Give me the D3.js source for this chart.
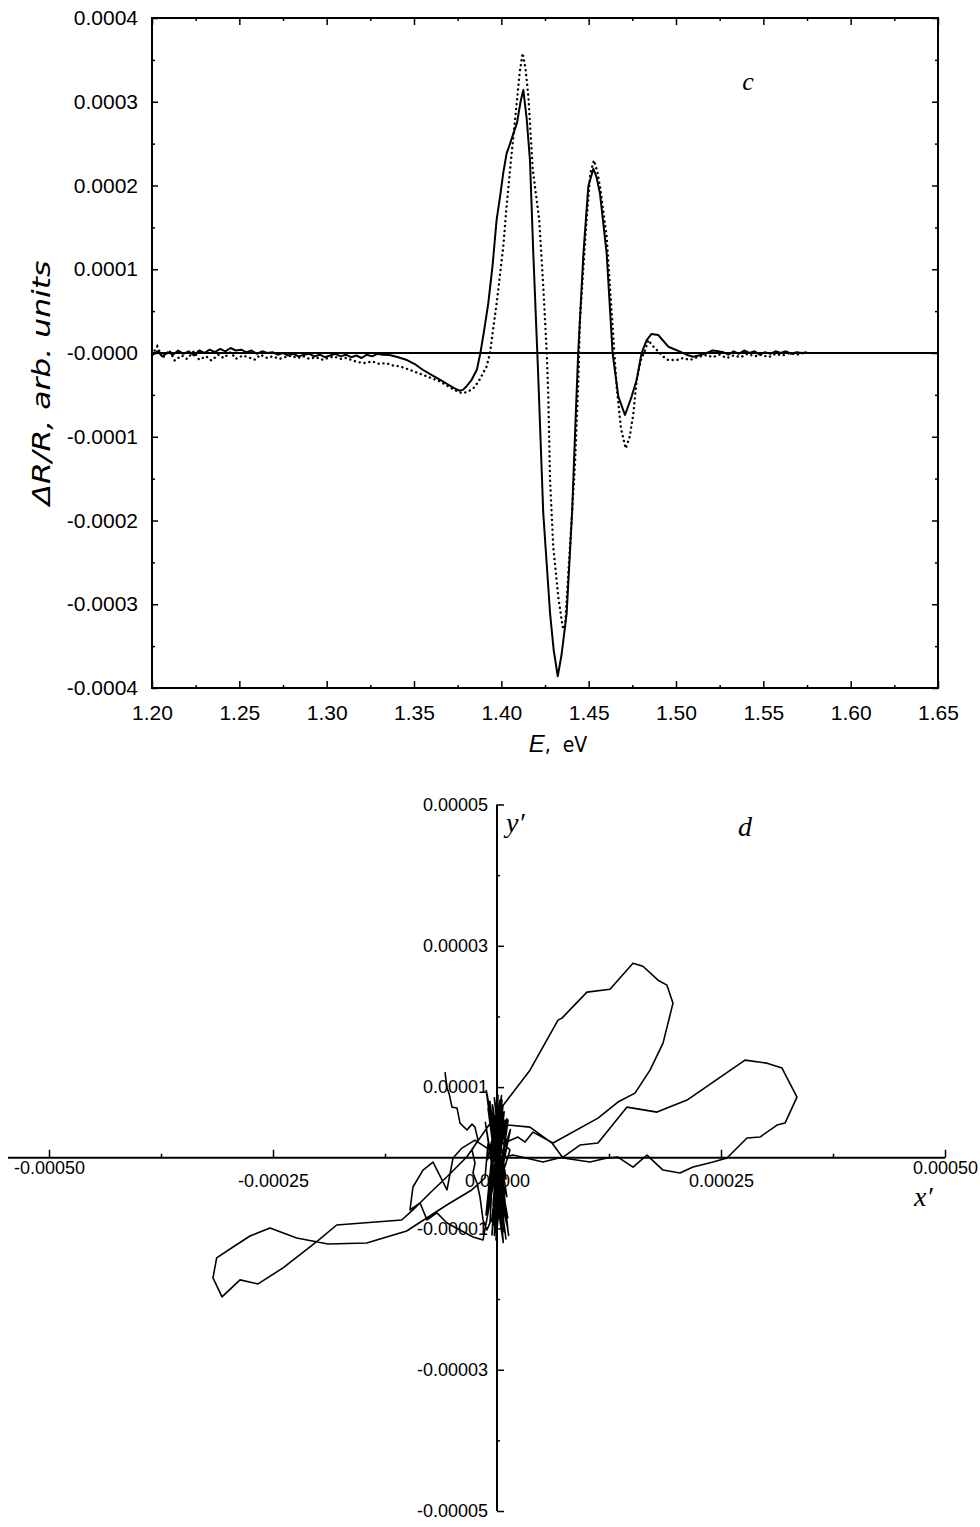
<!DOCTYPE html>
<html>
<head>
<meta charset="utf-8">
<script src="https://cdn.jsdelivr.net/npm/d3@7"></script>
<style>
  body { margin: 0; background: #fff; }
  text { fill: #000; }
</style>
</head>
<body>
<script>
// ---- panel c : dR/R spectra (values in units of 1e-5) ----
var solidE = [
  1.200,1.203,1.206,1.209,1.212,1.215,1.218,1.221,1.224,1.227,
  1.230,1.233,1.236,1.239,1.242,1.245,1.248,1.251,1.254,1.257,
  1.260,1.263,1.266,1.269,1.272,1.275,1.278,1.281,1.284,1.287,
  1.290,1.293,1.296,1.299,1.302,1.305,1.308,1.311,1.314,1.317,
  1.320,1.323,1.326,1.329,1.332,1.336,1.341,1.346,1.351,1.355,
  1.360,1.365,1.369,1.373,1.376,1.378,1.380,1.383,1.386,1.388,
  1.390,1.3925,1.395,1.3973,1.3995,1.4011,1.403,1.405,1.4069,1.409,
  1.411,1.4126,1.4145,1.4164,1.4183,1.4206,1.4212,1.424,1.4279,1.430,
  1.4323,1.4345,1.4374,1.4405,1.4425,1.4440,1.447,1.4498,1.4527,1.4545,
  1.4565,1.4603,1.4637,1.467,1.4708,1.4746,1.4775,1.4803,1.4832,1.486,
  1.4898,1.4956,1.5023,1.506,1.5099,1.513,1.5176,1.521,1.5233,1.527,
  1.530,1.533,1.536,1.539,1.542,1.545,1.548,1.551,1.554,1.557,
  1.560,1.563,1.566,1.569,1.572,1.575
];
var solidR = [
  -0.3,0.2,-0.4,0.1,-0.2,0.3,-0.1,0.2,-0.3,0.3,
  0.0,0.4,0.1,0.5,0.2,0.6,0.3,0.4,0.1,0.3,
  -0.1,0.2,0.0,0.1,-0.2,0.0,-0.3,-0.1,-0.4,-0.2,
  -0.1,-0.4,-0.2,-0.5,-0.3,-0.1,-0.4,-0.2,-0.5,-0.3,
  -0.6,-0.2,-0.4,-0.1,-0.2,-0.24,-0.5,-0.84,-1.4,-2.0,
  -2.6,-3.2,-3.7,-4.2,-4.5,-4.4,-4.0,-3.2,-2.0,0.0,
  2.5,5.9,10.5,15.9,19.0,21.5,23.8,25.0,26.2,27.5,
  30.0,31.4,28.0,23.0,11.9,0.0,-3.2,-19.1,-31.1,-35.5,
  -38.6,-36.0,-31.1,-19.1,-8.0,0.0,11.9,19.9,22.0,21.0,
  19.0,11.9,0.0,-5.2,-7.4,-5.2,-3.2,0.0,1.55,2.27,
  2.15,0.75,0.16,-0.2,-0.44,-0.3,0.0,0.3,0.24,0.1,
  -0.2,0.2,-0.1,0.3,0.0,0.2,-0.2,0.1,-0.1,0.2,
  0.0,0.2,-0.1,0.1,0.0,0.1
];
var dotE = [
  1.200,1.203,1.206,1.210,1.213,1.217,1.220,1.224,1.227,1.231,
  1.234,1.238,1.241,1.245,1.248,1.252,1.255,1.259,1.262,1.266,
  1.269,1.273,1.276,1.280,1.283,1.287,1.290,1.294,1.297,1.301,
  1.304,1.308,1.311,1.315,1.318,1.322,1.326,1.330,1.334,1.338,
  1.342,1.346,1.350,1.355,1.360,1.365,1.369,1.373,1.376,1.378,
  1.381,1.384,1.387,1.3916,1.3935,1.3954,1.3973,1.4011,1.403,1.4059,
  1.4088,1.4105,1.4122,1.4138,1.4155,1.418,1.4217,1.4240,1.426,1.4269,
  1.4279,1.4297,1.4326,1.4351,1.4364,1.4393,1.4422,1.4441,1.445,1.4488,
  1.451,1.453,1.4548,1.4565,1.4603,1.4641,1.466,1.4685,1.4712,1.4735,
  1.4756,1.4775,1.480,1.4823,1.4842,1.486,1.489,1.4925,1.4956,1.5004,
  1.504,1.508,1.512,1.5176,1.521,1.525,1.529,1.533,1.537,1.541,
  1.545,1.549,1.553,1.557,1.561,1.565,1.569,1.573
];
var dotR = [
  -0.2,0.8,-0.6,0.3,-0.9,-0.3,-0.7,0.2,-0.8,-0.4,
  -0.9,-0.2,-0.6,0.1,-0.7,-0.3,-0.5,-0.8,-0.2,-0.6,
  -0.4,-0.7,-0.5,-0.3,-0.6,-0.4,-0.7,-0.5,-0.8,-0.6,
  -0.4,-0.7,-0.6,-0.9,-1.1,-1.2,-1.0,-1.3,-1.2,-1.5,
  -1.6,-1.9,-2.2,-2.6,-3.0,-3.4,-3.9,-4.4,-4.7,-4.8,
  -4.6,-4.2,-3.4,-1.6,0.0,3.0,5.9,12.7,17.5,23.8,
  29.8,33.5,35.8,34.0,30.6,21.9,15.9,8.0,0.0,-5.2,
  -15.2,-23.1,-29.1,-32.7,-32.9,-23.1,-13.2,-3.2,3.9,15.9,
  21.5,23.0,21.8,19.9,13.9,1.95,-4.0,-9.0,-11.4,-10.0,
  -7.2,-3.2,-0.8,0.36,1.55,1.0,0.36,-0.4,-0.84,-0.84,
  -0.6,-0.84,-0.5,-0.24,-0.5,-0.2,-0.6,-0.3,-0.5,-0.1,
  -0.4,-0.2,-0.5,-0.1,-0.3,0.0,-0.2,0.0
];
var eTicks = [1.20,1.25,1.30,1.35,1.40,1.45,1.50,1.55,1.60,1.65];
var eMinor = [1.225,1.275,1.325,1.375,1.425,1.475,1.525,1.575,1.625];
var rTicks = [-0.0004,-0.0003,-0.0002,-0.0001,0,0.0001,0.0002,0.0003,0.0004];
var rMinor = [-0.00035,-0.00025,-0.00015,-0.00005,0.00005,0.00015,0.00025,0.00035];

// ---- panel d : y' vs x' trajectory (x' in 1e-4, y' in 1e-5) ----
var xq = [
  -0.580,-0.558,-0.536,-0.502,-0.446,-0.424,-0.413,-0.335,-0.279,-0.246,-0.212,-0.279,-0.246,-0.268,-0.223,-0.190,-0.156,-0.112,-0.078,
  -0.022,-0.100,0.033,-0.056,0.067,-0.078,0.089,-0.123,0.011,-0.033,0.123,-0.089,0.045,-0.011,0.100,-0.112,0.056,-0.045,0.145,-0.067,0.033,0,
  0.033,0.123,0.368,0.614,0.737,1.038,1.228,1.350,1.518,1.674,1.853,2.042,2.188,2.411,2.567,2.790,2.935,3.125,3.214,3.348,
  3.181,3.013,2.768,2.444,2.121,1.786,1.451,1.127,0.926,0.737,0.513,0.179,0.033,
  0.089,-0.078,0.033,
  0.08,-0.10,0.12,-0.06,0.10,-0.12,0.05,-0.08,0.13,-0.04,0.09,-0.11,0.06,-0.09,0.11,-0.05,0.07,-0.13,0.04,-0.07,0.10,-0.03,0.12,-0.10,
  -0.134,-0.282,-0.561,-1.008,-1.454,-1.886,-2.236,-2.533,-2.757,-2.946,-3.129,-3.170,-3.069,-2.868,-2.667,-2.388,-2.012,-1.789,-1.064,-0.938,
  -0.748,-0.561,-0.338,0.011,0.368,0.681,0.725,1.004,1.261,1.518,1.629,1.797,1.897,1.964,1.853,1.708,1.540,1.350,1.127,0.625,
  0.402,0.313,0.234,0.033,
  -0.022,-0.156,-0.268,-0.413,-0.558,-0.670,-0.781,-0.859,-0.971,-0.938,-0.826,-0.714,-0.558,-0.491,-0.391,-0.246,-0.078,
  0.08,-0.06,0.15,-0.10,0.05,-0.03,0.11,-0.08,0.02
];
var yq = [
  1.212,0.986,0.915,0.717,0.703,0.562,0.491,0.392,0.476,0.434,0.250,0.109,-0.075,-0.216,-0.357,-0.555,-0.880,-1.021,-0.922,
  0.533,-0.598,0.816,-1.092,0.745,0.109,0.392,-0.810,0.886,-0.952,0.533,-0.456,0.675,-1.163,0.321,-0.032,0.816,-0.669,0.109,0.392,-0.315,0.109,
  0.250,0.463,0.434,0.208,-0.004,-0.061,-0.004,0.010,-0.132,0.038,-0.174,-0.216,-0.132,-0.061,-0.004,0.279,0.293,0.463,0.491,0.859,
  1.269,1.339,1.382,1.099,0.816,0.646,0.717,0.208,0.180,0.010,-0.061,0.038,0,
  0.533,-0.456,-0.033,
  -1.05,0.70,-0.85,0.45,-1.15,0.95,-0.40,0.80,-1.10,0.30,-0.70,0.90,-0.95,0.20,-0.55,0.75,-1.20,0.50,-0.80,0.60,-0.30,0.85,-1.00,0.20,
  -0.287,-0.456,-0.669,-1.037,-1.207,-1.221,-1.136,-0.994,-1.107,-1.263,-1.418,-1.701,-1.970,-1.729,-1.786,-1.559,-1.188,-0.952,-0.881,-0.739,
  -0.499,-0.273,0.010,0.646,1.240,1.948,1.976,2.344,2.386,2.754,2.711,2.513,2.443,2.188,1.622,1.240,0.915,0.788,0.561,0.208,
  0.363,0.222,0.293,0.180,
  -0.245,-1.163,-1.121,-1.022,-0.923,-0.781,-0.880,-0.640,-0.739,-0.414,-0.174,-0.061,-0.456,-0.004,0.137,0.250,0.109,
  0.65,-0.90,0.40,-0.60,0.88,-1.10,0.55,-0.35,0.10
];
var xdTicks = [-0.0005,-0.00025,0,0.00025,0.0005];
var xdMinor = [-0.000375,-0.000125,0.000125,0.000375];
var ydTicks = [-0.00005,-0.00003,-0.00001,0.00001,0.00003,0.00005];
var ydMinor = [-0.00004,-0.00002,0.00002,0.00004];

var width = 980, height = 1527;
var svg = d3.select('body').append('svg')
  .attr('width', width)
  .attr('height', height);

var tickFont = '"Liberation Sans", Arial, sans-serif';

// small helper: draw an axis, drop its domain path, style ticks
function drawAxis(g, axis, size) {
  g.call(axis);
  g.select('.domain').remove();
  g.selectAll('line').attr('stroke', '#000').attr('stroke-width', 1.5);
  g.selectAll('text')
    .attr('fill', '#000')
    .style('font-family', tickFont)
    .style('font-size', (size || 19) + 'px');
  return g;
}

// ================= panel c =================
var x = d3.scaleLinear().domain([1.20, 1.65]).range([152, 938]);
var y = d3.scaleLinear().domain([-0.0004, 0.0004]).range([688, 18]);

var panelC = svg.append('g');

// bottom axis: ticks point up into the plot, labels below
drawAxis(panelC.append('g').attr('transform', 'translate(0,688)'),
  d3.axisBottom(x).tickValues(eTicks).tickSize(-7).tickPadding(17)
    .tickFormat(function(d) { return d.toFixed(2); }), 21);
drawAxis(panelC.append('g').attr('transform', 'translate(0,688)'),
  d3.axisBottom(x).tickValues(eMinor).tickSize(-3).tickFormat(''));
// top axis ticks point down
drawAxis(panelC.append('g').attr('transform', 'translate(0,18)'),
  d3.axisTop(x).tickValues(eTicks).tickSize(-7).tickFormat(''));
drawAxis(panelC.append('g').attr('transform', 'translate(0,18)'),
  d3.axisTop(x).tickValues(eMinor).tickSize(-3).tickFormat(''));

// left axis
drawAxis(panelC.append('g').attr('transform', 'translate(152,0)'),
  d3.axisLeft(y).tickValues(rTicks).tickSize(-6).tickPadding(14)
    .tickFormat(function(d) { return Math.abs(d) < 1e-9 ? '-0.0000' : d.toFixed(4); }), 21);
drawAxis(panelC.append('g').attr('transform', 'translate(152,0)'),
  d3.axisLeft(y).tickValues(rMinor).tickSize(-3).tickFormat(''));
// right axis ticks
drawAxis(panelC.append('g').attr('transform', 'translate(938,0)'),
  d3.axisRight(y).tickValues(rTicks).tickSize(-6).tickFormat(''));
drawAxis(panelC.append('g').attr('transform', 'translate(938,0)'),
  d3.axisRight(y).tickValues(rMinor).tickSize(-3).tickFormat(''));

// frame + zero line
panelC.append('rect')
  .attr('x', 152).attr('y', 18)
  .attr('width', 938 - 152).attr('height', 688 - 18)
  .attr('fill', 'none').attr('stroke', '#000').attr('stroke-width', 2);
panelC.append('line')
  .attr('x1', x(1.20)).attr('x2', x(1.65))
  .attr('y1', y(0)).attr('y2', y(0))
  .attr('stroke', '#000').attr('stroke-width', 2);

var specLine = d3.line()
  .x(function(d) { return x(d[0]); })
  .y(function(d) { return y(d[1] * 1e-5); });

var solidPts = solidE.map(function(e, i) { return [e, solidR[i]]; });
var dotPts = dotE.map(function(e, i) { return [e, dotR[i]]; });

panelC.append('path')
  .datum(dotPts)
  .attr('d', specLine)
  .attr('fill', 'none')
  .attr('stroke', '#000')
  .attr('stroke-width', 2.4)
  .attr('stroke-linecap', 'round')
  .attr('stroke-dasharray', '0.1,4.8');

panelC.append('path')
  .datum(solidPts)
  .attr('d', specLine)
  .attr('fill', 'none')
  .attr('stroke', '#000')
  .attr('stroke-width', 2)
  .attr('stroke-linejoin', 'round');

// labels
panelC.append('text')
  .attr('x', 748).attr('y', 90)
  .attr('text-anchor', 'middle')
  .style('font-family', '"Liberation Serif", serif')
  .style('font-style', 'italic')
  .style('font-size', '26px')
  .text('c');

var xl = panelC.append('text')
  .attr('x', 558).attr('y', 752)
  .attr('text-anchor', 'middle')
  .style('font-size', '24px');
xl.append('tspan')
  .style('font-family', '"Liberation Sans", sans-serif')
  .style('font-style', 'italic')
  .text('E');
xl.append('tspan')
  .style('font-family', '"DejaVu Sans Condensed", "DejaVu Sans", sans-serif')
  .style('font-size', '21px')
  .text(',\u00a0 eV');

panelC.append('text')
  .attr('transform', 'translate(50,383) rotate(-90)')
  .attr('text-anchor', 'middle')
  .attr('textLength', 245)
  .attr('lengthAdjust', 'spacingAndGlyphs')
  .style('font-family', '"DejaVu Sans Condensed", "DejaVu Sans", sans-serif')
  .style('font-style', 'italic')
  .style('font-size', '24px')
  .text('\u0394R/R,  arb. units');

// ================= panel d =================
var xs = d3.scaleLinear().domain([-0.0005, 0.0005]).range([49, 945]);
var ys = d3.scaleLinear().domain([-0.00005, 0.00005]).range([1511, 804.5]);

var panelD = svg.append('g');

// axis lines through origin
panelD.append('line')
  .attr('x1', 8).attr('x2', xs(0.0005))
  .attr('y1', ys(0)).attr('y2', ys(0))
  .attr('stroke', '#000').attr('stroke-width', 2);
panelD.append('line')
  .attr('x1', xs(0)).attr('x2', xs(0))
  .attr('y1', ys(0.00005)).attr('y2', ys(-0.00005))
  .attr('stroke', '#000').attr('stroke-width', 2);

var xAxisD = drawAxis(panelD.append('g').attr('transform', 'translate(0,' + ys(0) + ')'),
  d3.axisBottom(xs).tickValues(xdTicks).tickSize(-8).tickPadding(16)
    .tickFormat(function(d) { return d.toFixed(5); }), 18);
// the two end labels sit a bit higher, right under the line
xAxisD.selectAll('.tick text')
  .filter(function(d) { return Math.abs(d) > 0.0004; })
  .attr('y', 3);
drawAxis(panelD.append('g').attr('transform', 'translate(0,' + ys(0) + ')'),
  d3.axisBottom(xs).tickValues(xdMinor).tickSize(-4).tickFormat(''));

drawAxis(panelD.append('g').attr('transform', 'translate(' + xs(0) + ',0)'),
  d3.axisLeft(ys).tickValues(ydTicks).tickSize(-7).tickPadding(9)
    .tickFormat(function(d) { return d.toFixed(5); }), 18);
drawAxis(panelD.append('g').attr('transform', 'translate(' + xs(0) + ',0)'),
  d3.axisLeft(ys).tickValues(ydMinor).tickSize(-3).tickFormat(''));

var trajLine = d3.line()
  .x(function(d) { return xs(d[0] * 1e-4); })
  .y(function(d) { return ys(d[1] * 1e-5); });

var trajPts = xq.map(function(v, i) { return [v, yq[i]]; });

panelD.append('path')
  .datum(trajPts)
  .attr('d', trajLine)
  .attr('fill', 'none')
  .attr('stroke', '#000')
  .attr('stroke-width', 1.6)
  .attr('stroke-linejoin', 'round');

function italicLabel(txt, px, py) {
  panelD.append('text')
    .attr('x', px).attr('y', py)
    .style('font-family', '"Liberation Serif", serif')
    .style('font-style', 'italic')
    .style('font-size', '28px')
    .text(txt);
}
italicLabel('y\u2032', 506, 832);
italicLabel('d', 738, 836);
italicLabel('x\u2032', 914, 1206);
</script>
</body>
</html>
